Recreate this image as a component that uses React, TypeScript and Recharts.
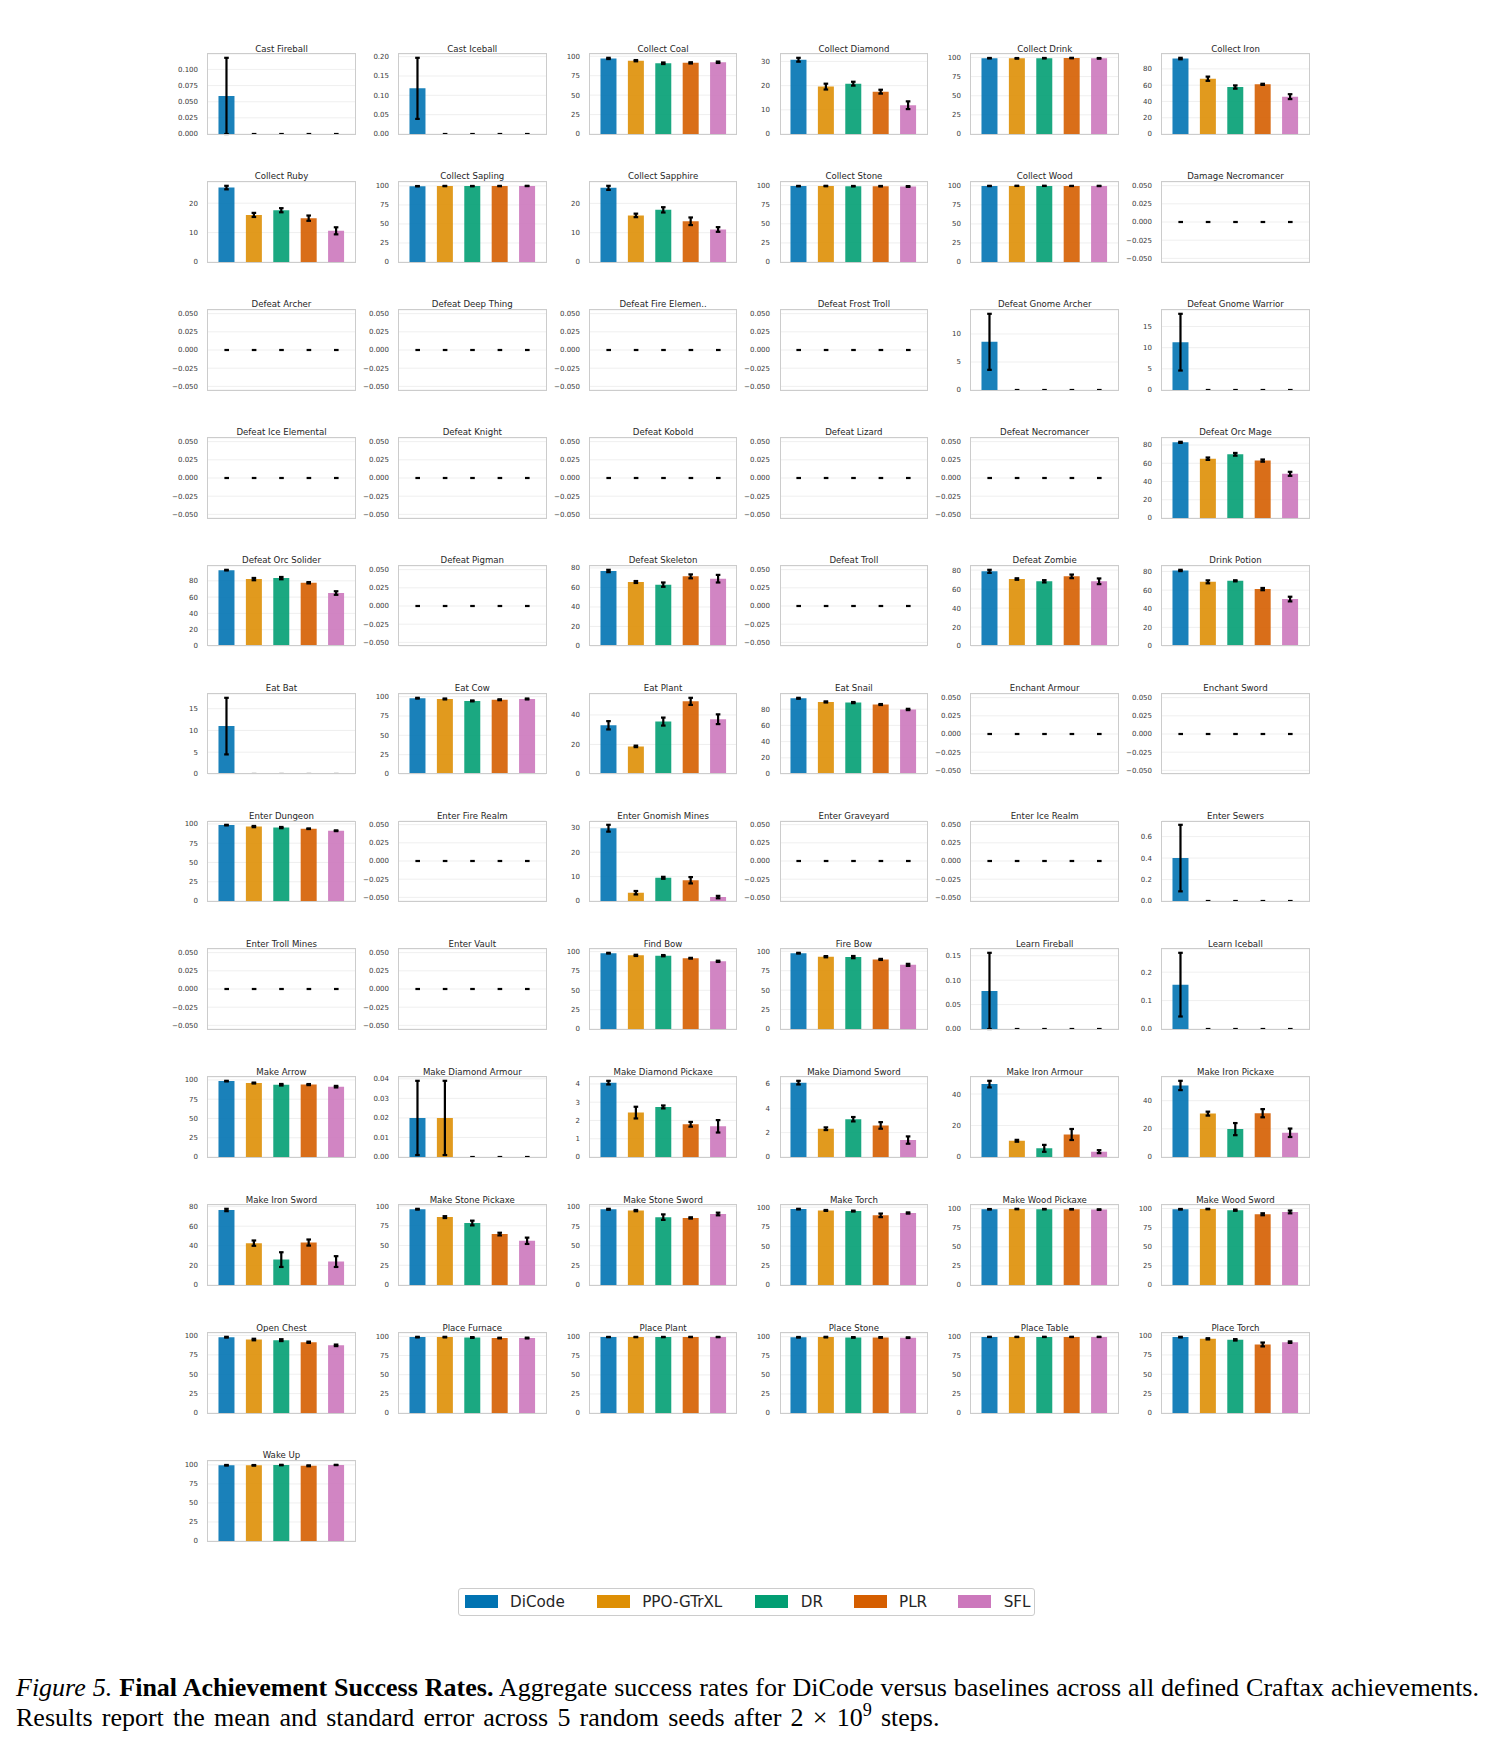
import React from 'react';
import { ComposedChart, Bar, Scatter, XAxis, YAxis, CartesianGrid, Cell, ErrorBar } from 'recharts';

// Methods compared in every panel, in bar order.
const METHODS = ['DiCode', 'PPO-GTrXL', 'DR', 'PLR', 'SFL'];
const METHOD_COLORS = ['#0173b2', '#de8f05', '#029e73', '#d55e00', '#cc78bc'];

// Craftax achievements, one small panel each (6 per row).
const ACHIEVEMENTS = [
  'Cast Fireball', 'Cast Iceball', 'Collect Coal', 'Collect Diamond', 'Collect Drink', 'Collect Iron',
  'Collect Ruby', 'Collect Sapling', 'Collect Sapphire', 'Collect Stone', 'Collect Wood', 'Damage Necromancer',
  'Defeat Archer', 'Defeat Deep Thing', 'Defeat Fire Elemen..', 'Defeat Frost Troll', 'Defeat Gnome Archer', 'Defeat Gnome Warrior',
  'Defeat Ice Elemental', 'Defeat Knight', 'Defeat Kobold', 'Defeat Lizard', 'Defeat Necromancer', 'Defeat Orc Mage',
  'Defeat Orc Solider', 'Defeat Pigman', 'Defeat Skeleton', 'Defeat Troll', 'Defeat Zombie', 'Drink Potion',
  'Eat Bat', 'Eat Cow', 'Eat Plant', 'Eat Snail', 'Enchant Armour', 'Enchant Sword',
  'Enter Dungeon', 'Enter Fire Realm', 'Enter Gnomish Mines', 'Enter Graveyard', 'Enter Ice Realm', 'Enter Sewers',
  'Enter Troll Mines', 'Enter Vault', 'Find Bow', 'Fire Bow', 'Learn Fireball', 'Learn Iceball',
  'Make Arrow', 'Make Diamond Armour', 'Make Diamond Pickaxe', 'Make Diamond Sword', 'Make Iron Armour', 'Make Iron Pickaxe',
  'Make Iron Sword', 'Make Stone Pickaxe', 'Make Stone Sword', 'Make Torch', 'Make Wood Pickaxe', 'Make Wood Sword',
  'Open Chest', 'Place Furnace', 'Place Plant', 'Place Stone', 'Place Table', 'Place Torch',
  'Wake Up',
];

// Mean success rate (%) per achievement, same order as ACHIEVEMENTS.
const DICODE_MEAN = [
  0.059, 0.118, 97.2, 30.7, 99.0, 92.7,
  25.3, 99.6, 25.3, 99.3, 99.8, 0,
  0, 0, 0, 0, 8.6, 11.3,
  0, 0, 0, 0, 0, 82.9,
  93.1, 0, 76.9, 0, 78.7, 81.1,
  11.0, 98.0, 33.0, 93.5, 0, 0,
  98.5, 0, 29.8, 0, 0, 0.4,
  0, 0, 98.0, 97.5, 0.078, 0.156,
  98.5, 0.02, 4.07, 6.1, 46.3, 50.8,
  76.5, 96.0, 96.5, 97.5, 99.2, 99.0,
  97.8, 99.0, 99.7, 99.2, 99.9, 98.0,
  99.5,
];
const PPO_GTRXL_MEAN = [
  0, 0, 94.3, 19.6, 98.8, 67.9,
  16.0, 99.8, 15.9, 99.4, 99.9, 0,
  0, 0, 0, 0, 0, 0,
  0, 0, 0, 0, 0, 65.0,
  82.1, 0, 65.6, 0, 70.6, 68.9,
  0, 97.0, 18.7, 89.0, 0, 0,
  96.6, 0, 3.4, 0, 0, 0,
  0, 0, 95.2, 93.0, 0, 0,
  96.0, 0.02, 2.43, 2.32, 10.3, 30.8,
  42.7, 86.0, 94.8, 95.8, 99.5, 99.3,
  94.8, 99.0, 99.7, 99.4, 99.9, 95.8,
  99.4,
];
const DR_MEAN = [
  0, 0, 91.0, 20.8, 99.0, 57.7,
  17.6, 99.7, 17.8, 99.2, 99.9, 0,
  0, 0, 0, 0, 0, 0,
  0, 0, 0, 0, 0, 69.8,
  83.3, 0, 62.9, 0, 68.2, 70.0,
  0, 94.5, 35.5, 88.2, 0, 0,
  95.3, 0, 9.5, 0, 0, 0,
  0, 0, 94.8, 92.5, 0, 0,
  93.8, 0, 2.74, 3.1, 5.5, 19.8,
  25.9, 78.5, 86.5, 95.0, 99.3, 97.8,
  94.0, 98.5, 99.7, 99.0, 99.9, 94.5,
  99.8,
];
const PLR_MEAN = [
  0, 0, 91.5, 17.5, 99.2, 61.0,
  14.9, 99.8, 13.9, 99.2, 99.8, 0,
  0, 0, 0, 0, 0, 0,
  0, 0, 0, 0, 0, 62.9,
  77.6, 0, 71.4, 0, 73.4, 61.1,
  0, 96.0, 49.2, 85.8, 0, 0,
  93.8, 0, 8.5, 0, 0, 0,
  0, 0, 91.5, 89.5, 0, 0,
  94.0, 0, 1.79, 2.59, 14.3, 31.1,
  43.3, 64.5, 85.5, 89.5, 99.2, 92.5,
  91.3, 97.8, 99.8, 99.0, 99.9, 88.5,
  98.8,
];
const SFL_MEAN = [
  0, 0, 92.3, 11.9, 98.8, 45.9,
  10.6, 99.9, 11.1, 98.8, 99.8, 0,
  0, 0, 0, 0, 0, 0,
  0, 0, 0, 0, 0, 48.4,
  65.0, 0, 69.0, 0, 68.2, 50.4,
  0, 97.0, 37.1, 79.7, 0, 0,
  91.2, 0, 1.6, 0, 0, 0,
  0, 0, 87.5, 82.5, 0, 0,
  91.3, 0, 1.68, 1.39, 3.4, 17.2,
  23.9, 56.0, 90.5, 92.5, 98.8, 95.5,
  87.3, 97.8, 99.7, 98.7, 99.9, 91.5,
  99.9,
];

// Standard error across 5 seeds, same order as ACHIEVEMENTS.
const DICODE_SE = [
  0.059, 0.079, 0.8, 0.8, 0.3, 0.9,
  0.6, 0.2, 0.7, 0.3, 0.2, 0,
  0, 0, 0, 0, 5.0, 6.7,
  0, 0, 0, 0, 0, 0.6,
  0.4, 0, 1.2, 0, 1.6, 0.7,
  6.5, 0.5, 2.8, 0.6, 0, 0,
  0.4, 0, 1.4, 0, 0, 0.31,
  0, 0, 0.5, 0.5, 0.078, 0.112,
  0.4, 0.019, 0.1, 0.15, 2.1, 3.3,
  1.2, 0.5, 0.6, 0.4, 0.3, 0.4,
  0.5, 0.4, 0.2, 0.4, 0.15, 0.4,
  0.4,
];
const PPO_GTRXL_SE = [
  0, 0, 0.8, 1.2, 0.4, 2.6,
  0.7, 0.2, 0.6, 0.3, 0.1, 0,
  0, 0, 0, 0, 0, 0,
  0, 0, 0, 0, 0, 1.3,
  1.4, 0, 1.0, 0, 0.8, 1.6,
  0, 0.6, 0.5, 0.7, 0, 0,
  0.8, 0, 0.7, 0, 0, 0,
  0, 0, 0.8, 0.8, 0, 0,
  0.6, 0.019, 0.32, 0.11, 0.6, 1.4,
  2.7, 1.2, 0.8, 0.6, 0.3, 0.3,
  1.0, 0.4, 0.2, 0.4, 0.15, 0.8,
  0.4,
];
const DR_SE = [
  0, 0, 1.0, 0.8, 0.3, 2.0,
  0.7, 0.2, 0.9, 0.3, 0.1, 0,
  0, 0, 0, 0, 0, 0,
  0, 0, 0, 0, 0, 1.5,
  1.4, 0, 2.2, 0, 1.2, 0.6,
  0, 0.6, 2.7, 0.7, 0, 0,
  0.8, 0, 0.4, 0, 0, 0,
  0, 0, 0.8, 1.4, 0, 0,
  1.0, 0, 0.08, 0.18, 2.2, 4.3,
  7.5, 3.0, 3.5, 0.6, 0.3, 0.8,
  1.2, 0.5, 0.2, 0.4, 0.15, 0.9,
  0.3,
];
const PLR_SE = [
  0, 0, 0.8, 0.8, 0.3, 0.7,
  0.9, 0.2, 1.3, 0.3, 0.1, 0,
  0, 0, 0, 0, 0, 0,
  0, 0, 0, 0, 0, 1.2,
  0.8, 0, 2.0, 0, 1.9, 1.2,
  0, 0.6, 2.4, 0.6, 0, 0,
  0.4, 0, 1.3, 0, 0, 0,
  0, 0, 0.5, 0.7, 0, 0,
  0.7, 0, 0.13, 0.27, 3.5, 2.9,
  3.1, 1.7, 0.8, 2.3, 0.3, 1.3,
  0.8, 0.4, 0.2, 0.4, 0.15, 2.5,
  0.6,
];
const SFL_SE = [
  0, 0, 0.9, 1.6, 0.4, 3.0,
  1.2, 0.2, 0.8, 0.5, 0.2, 0,
  0, 0, 0, 0, 0, 0,
  0, 0, 0, 0, 0, 2.2,
  2.2, 0, 3.9, 0, 3.0, 2.5,
  0, 0.6, 3.3, 0.8, 0, 0,
  0.5, 0, 0.5, 0, 0, 0,
  0, 0, 0.8, 1.3, 0, 0,
  1.0, 0, 0.34, 0.3, 0.95, 3.0,
  5.5, 4.0, 1.7, 0.8, 0.3, 1.8,
  1.0, 0.5, 0.2, 0.4, 0.15, 1.0,
  0.2,
];

const MEANS = [DICODE_MEAN, PPO_GTRXL_MEAN, DR_MEAN, PLR_MEAN, SFL_MEAN];
const SES = [DICODE_SE, PPO_GTRXL_SE, DR_SE, PLR_SE, SFL_SE];

// Grid geometry (page pixels)
const COLS = 6;
const GRID_LEFT = 208;
const GRID_TOP = 54;
const COL_PITCH = 190.8;
const ROW_PITCH = 127.9;
const PLOT_W = 147;
const PLOT_H = 80;
const AXIS_W = 40;
const PAD = 4;
const CAP_HALF = 2.3;
const ERR_WIDTH = 2.2;

const SANS = '"DejaVu Sans", "Liberation Sans", sans-serif';
const SERIF = '"Liberation Serif", "DejaVu Serif", serif';

// Smallest 1/2/2.5/5/10 step covering the range in at most five intervals.
function niceStep(raw: number): number {
  const scale = Math.pow(10, Math.floor(Math.log10(raw)));
  for (const m of [1, 2, 2.5, 5, 10]) {
    if (m * scale >= raw * (1 - 1e-9)) return m * scale;
  }
  return 10 * scale;
}

function decimalsFor(step: number): number {
  let d = 0;
  while (d < 6 && Math.abs(Math.round(step * 10 ** d) - step * 10 ** d) > 1e-6) d++;
  return d;
}

function formatTick(v: number, dec: number): string {
  const s = Math.abs(v).toFixed(dec);
  return v < -1e-12 ? '\u2212' + s : s;
}

// Zero-length error bar: both caps collapse onto the mean.
function ZeroCap(props: any) {
  const { cx, cy } = props;
  if (cx == null || cy == null || Number.isNaN(cx) || Number.isNaN(cy)) return <g />;
  return <rect x={cx - CAP_HALF} y={cy - ERR_WIDTH / 2} width={CAP_HALF * 2} height={ERR_WIDTH} fill="#000" />;
}

function Panel({ idx }: { idx: number }) {
  const col = idx % COLS;
  const row = Math.floor(idx / COLS);
  const plotLeft = GRID_LEFT + col * COL_PITCH;
  const plotTop = GRID_TOP + row * ROW_PITCH;

  const data = METHODS.map((m, k) => ({
    method: m,
    mean: MEANS[k][idx],
    se: SES[k][idx],
    flat: MEANS[k][idx] === 0 ? 0 : null,
  }));
  const top = Math.max(...data.map((d) => d.mean + d.se));
  const lo = top > 0 ? 0 : -0.055;
  const hi = top > 0 ? top * 1.05 : 0.055;
  const step = niceStep((hi - lo) / 5);
  const dec = decimalsFor(step);
  const ticks: number[] = [];
  for (let k = Math.ceil(lo / step - 1e-9); k * step <= hi + 1e-12; k++) {
    ticks.push(Number((k * step).toFixed(10)));
  }

  return (
    <>
      <div
        style={{
          position: 'absolute',
          left: plotLeft - 20,
          width: PLOT_W + 40,
          top: plotTop - 10.5,
          height: 10,
          lineHeight: '10px',
          fontSize: 8.6,
          fontFamily: SANS,
          color: '#262626',
          textAlign: 'center',
          whiteSpace: 'nowrap',
        }}
      >
        {ACHIEVEMENTS[idx]}
      </div>
      <div style={{ position: 'absolute', left: plotLeft - AXIS_W - PAD, top: plotTop - PAD }}>
        <ComposedChart
          width={AXIS_W + PLOT_W + 2 * PAD}
          height={PLOT_H + 2 * PAD}
          data={data}
          margin={{ top: PAD, right: PAD, bottom: PAD, left: PAD }}
          barCategoryGap="20%"
        >
          <CartesianGrid vertical={false} stroke="#ebebeb" strokeWidth={0.8} />
          <XAxis dataKey="method" hide padding={{ left: 5, right: 5 }} />
          <YAxis
            type="number"
            domain={[lo, hi]}
            ticks={ticks}
            allowDataOverflow
            interval={0}
            width={AXIS_W}
            axisLine={false}
            tickLine={false}
            tickSize={0}
            tickMargin={10}
            tick={{ fontSize: 7, fill: '#3a3a3a', fontFamily: SANS }}
            tickFormatter={(v: number) => formatTick(v, dec)}
          />
          <Bar dataKey="mean" isAnimationActive={false}>
            {data.map((d, k) => (
              <Cell key={d.method} fill={METHOD_COLORS[k]} fillOpacity={0.9} />
            ))}
            <ErrorBar
              dataKey="se"
              direction="y"
              width={CAP_HALF}
              strokeWidth={ERR_WIDTH}
              stroke="#000"
              isAnimationActive={false}
            />
          </Bar>
          <Scatter dataKey="flat" shape={ZeroCap} isAnimationActive={false} />
        </ComposedChart>
      </div>
      <div
        style={{
          position: 'absolute',
          left: plotLeft - 0.9,
          top: plotTop - 0.9,
          width: PLOT_W + 1.8,
          height: PLOT_H + 1.8,
          border: '1.8px solid #cccccc',
          boxSizing: 'border-box',
          pointerEvents: 'none',
        }}
      />
    </>
  );
}

const LEGEND_PATCH_X = [463.6, 595.8, 754.4, 852.7, 957.3];
const LEGEND_TEXT_X = [509, 641.2, 799.8, 898, 1002.7];

function FigureLegend() {
  return (
    <div
      style={{
        position: 'absolute',
        left: 458,
        top: 1588,
        width: 577,
        height: 28,
        border: '1px solid #cccccc',
        borderRadius: 3,
        boxSizing: 'border-box',
        background: '#fff',
      }}
    >
      {METHODS.map((m, k) => (
        <React.Fragment key={m}>
          <div
            style={{
              position: 'absolute',
              left: LEGEND_PATCH_X[k] - 458,
              top: 6,
              width: 33,
              height: 13,
              background: METHOD_COLORS[k],
            }}
          />
          <div
            style={{
              position: 'absolute',
              left: LEGEND_TEXT_X[k] - 458,
              top: 3,
              height: 20,
              lineHeight: '20px',
              fontSize: 15.2,
              fontFamily: SANS,
              color: '#262626',
              whiteSpace: 'nowrap',
            }}
          >
            {m}
          </div>
        </React.Fragment>
      ))}
    </div>
  );
}

function Caption() {
  const line: React.CSSProperties = {
    position: 'absolute',
    left: 16,
    fontSize: 26,
    lineHeight: '30px',
    fontFamily: SERIF,
    color: '#000',
  };
  return (
    <>
      <div style={{ ...line, top: 1673, width: 1463, textAlign: 'justify', textAlignLast: 'justify' }}>
        <i>Figure 5.</i> <b>Final Achievement Success Rates.</b> Aggregate success rates for DiCode versus
        baselines across all defined Craftax achievements.
      </div>
      <div style={{ ...line, top: 1703, whiteSpace: 'nowrap', wordSpacing: '2.7px' }}>
        Results report the mean and standard error across 5 random seeds after 2 × 10
        <sup style={{ fontSize: '0.7em', lineHeight: 0, verticalAlign: '0.55em' }}>9</sup> steps.
      </div>
    </>
  );
}

export default function App() {
  return (
    <div
      style={{
        position: 'absolute',
        left: 0,
        top: 0,
        width: 1496,
        height: 1751,
        background: '#ffffff',
        overflow: 'hidden',
      }}
    >
      {ACHIEVEMENTS.map((_, i) => (
        <Panel key={i} idx={i} />
      ))}
      <FigureLegend />
      <Caption />
    </div>
  );
}
